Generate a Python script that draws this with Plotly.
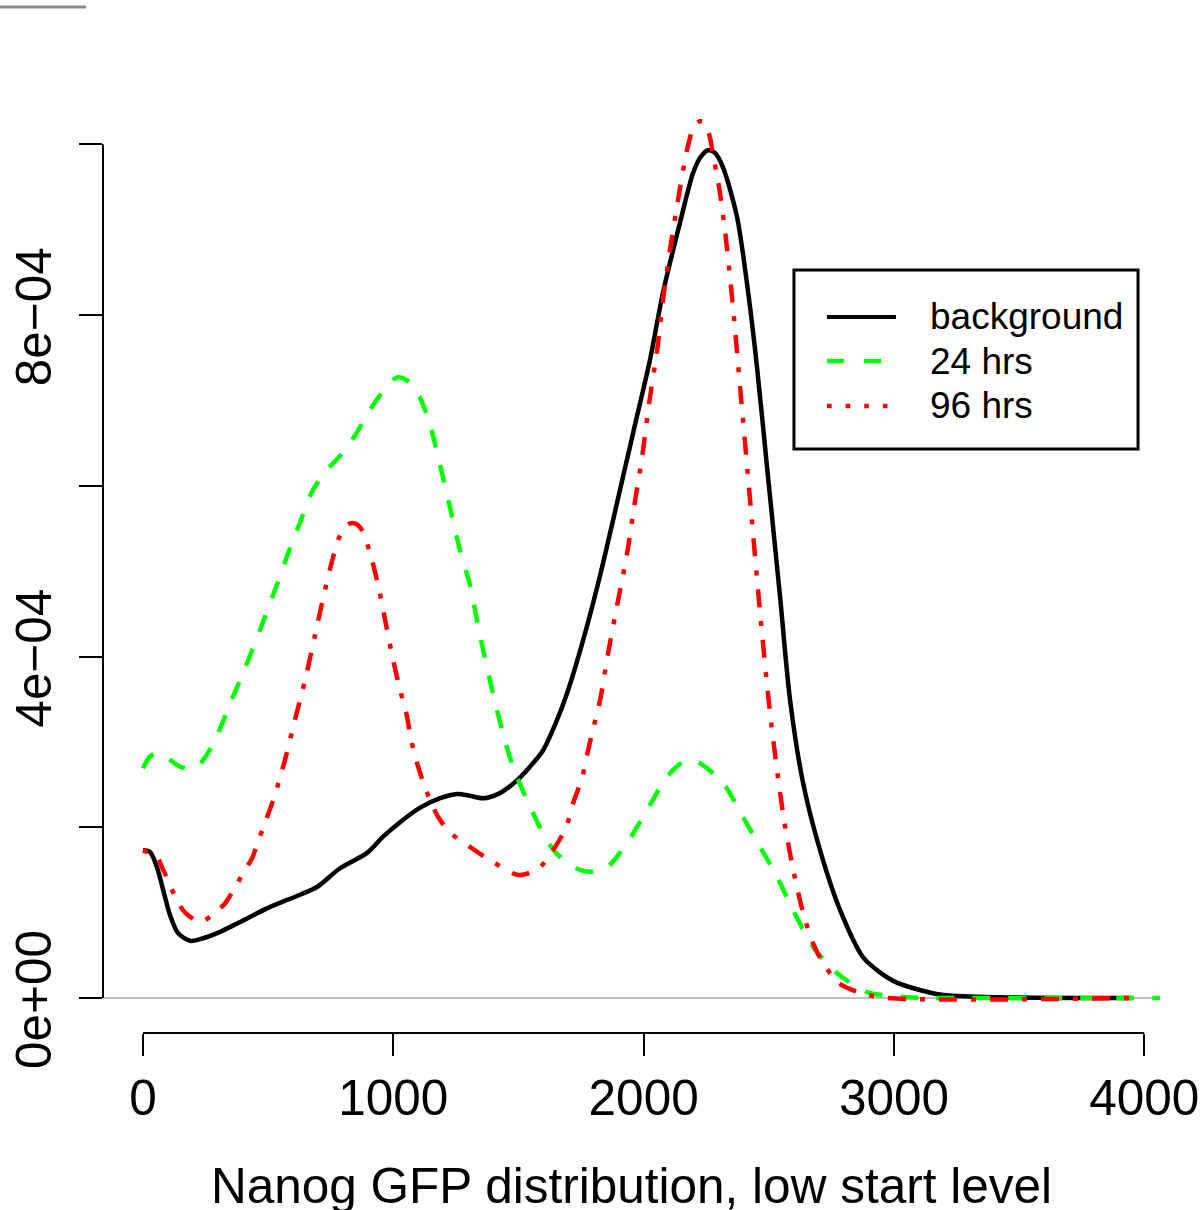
import plotly.graph_objects as go

# ---------------- data (density values in units of 1e-4) ----------------
x_background = [0, 28, 56, 80, 108, 140, 188, 228, 296, 388, 495, 627, 695, 787, 895,
                959, 1027, 1107, 1187, 1254, 1306, 1358, 1426, 1494, 1546, 1598, 1646, 1694,
                1758, 1826, 1878, 1958, 2025, 2077, 2145, 2197, 2225, 2257, 2285, 2317, 2373,
                2413, 2453, 2493, 2545, 2585, 2637, 2705, 2785, 2876, 2944, 3012, 3184, 3424, 3950]
y_background_e4 = [1.73, 1.71, 1.53, 1.27, 0.97, 0.76, 0.67, 0.69, 0.76, 0.89, 1.05, 1.21, 1.30,
                   1.52, 1.70, 1.89, 2.06, 2.23, 2.34, 2.39, 2.37, 2.34, 2.40, 2.55, 2.71, 2.90,
                   3.20, 3.57, 4.19, 4.95, 5.60, 6.62, 7.47, 8.26, 9.08, 9.66, 9.84, 9.93, 9.90,
                   9.73, 9.15, 8.37, 7.39, 6.22, 4.70, 3.49, 2.52, 1.73, 1.03, 0.48, 0.30, 0.18,
                   0.04, 0.01, 0.0]

x_24hrs = [0, 28, 68, 108, 148, 208, 248, 288, 348, 407, 467, 527, 587, 627, 675, 727, 787,
           847, 907, 967, 1015, 1067, 1107, 1147, 1187, 1226, 1266, 1306, 1346, 1398, 1438,
           1478, 1534, 1598, 1646, 1694, 1746, 1798, 1854, 1934, 2013, 2093, 2145, 2185, 2225,
           2317, 2397, 2465, 2533, 2597, 2677, 2773, 2893, 3052, 3264, 4100]
y_24hrs_e4 = [2.69, 2.83, 2.87, 2.79, 2.71, 2.69, 2.82, 3.02, 3.45, 3.86, 4.31, 4.78, 5.27,
              5.57, 5.93, 6.16, 6.35, 6.59, 6.89, 7.14, 7.27, 7.21, 7.03, 6.71, 6.24, 5.75,
              5.25, 4.84, 4.25, 3.57, 3.10, 2.71, 2.32, 1.93, 1.71, 1.59, 1.50, 1.48, 1.53,
              1.82, 2.20, 2.59, 2.74, 2.79, 2.75, 2.52, 2.12, 1.77, 1.42, 1.03, 0.60, 0.29,
              0.07, 0.01, 0.0, 0.0]

x_96hrs = [0, 56, 76, 108, 140, 168, 228, 288, 328, 368, 407, 436, 459, 487, 527, 567, 607,
           647, 687, 727, 759, 787, 819, 847, 875, 907, 939, 971, 999, 1027, 1055, 1071, 1099,
           1127, 1159, 1179, 1226, 1306, 1394, 1478, 1506, 1578, 1638, 1690, 1718, 1754, 1778,
           1798, 1826, 1858, 1898, 1934, 1966, 1994, 2022, 2054, 2077, 2105, 2137, 2173, 2201,
           2225, 2245, 2265, 2277, 2297, 2325, 2357, 2393, 2429, 2465, 2505, 2557, 2593, 2637,
           2677, 2713, 2777, 2865, 2972, 3955]
y_96hrs_e4 = [1.73, 1.65, 1.53, 1.32, 1.12, 1.00, 0.89, 1.00, 1.11, 1.30, 1.50, 1.64, 1.83,
              2.05, 2.38, 2.79, 3.26, 3.72, 4.25, 4.78, 5.16, 5.42, 5.55, 5.56, 5.48, 5.21,
              4.84, 4.37, 3.96, 3.61, 3.29, 3.02, 2.71, 2.46, 2.24, 2.12, 1.94, 1.77, 1.60,
              1.46, 1.44, 1.51, 1.73, 2.00, 2.28, 2.58, 2.90, 3.15, 3.49, 4.04, 4.66, 5.21,
              5.83, 6.34, 6.97, 7.59, 8.17, 8.76, 9.34, 9.93, 10.21, 10.27, 10.25, 10.08, 9.87,
              9.58, 8.99, 8.09, 6.90, 5.71, 4.52, 3.34, 2.16, 1.57, 1.00, 0.64, 0.43, 0.18,
              0.06, 0.0, 0.0]

series_names = ["background", "24 hrs", "96 hrs"]
x_ticks = [0, 1000, 2000, 3000, 4000]
x_tick_labels = ["0", "1000", "2000", "3000", "4000"]
y_ticks_e4 = [0, 2, 4, 6, 8, 10]
y_tick_labels = ["0e+00", "", "4e\u221204", "", "8e\u221204", ""]
x_title = "Nanog GFP distribution, low start level"

UNIT = 1e-4
FONT = "Liberation Sans, Arial, Helvetica, sans-serif"

fig = go.Figure()
styles = [
    dict(color="black", width=4.5, dash="solid"),
    dict(color="#00ff00", width=4.5, dash="18px,18px"),
    dict(color="#ff0000", width=4.5, dash="5px,14px,18px,14px"),
]
for name, xs, ys, st in zip(series_names,
                            [x_background, x_24hrs, x_96hrs],
                            [y_background_e4, y_24hrs_e4, y_96hrs_e4],
                            styles):
    fig.add_trace(go.Scatter(
        x=xs, y=[v * UNIT for v in ys], mode="lines", name=name,
        line=dict(color=st["color"], width=st["width"], dash=st["dash"],
                  shape="spline", smoothing=0.8),
        showlegend=False, hoverinfo="skip"))

shapes = []
# R-style axis lines spanning only the tick range
shapes.append(dict(type="line", xref="x", yref="paper", x0=x_ticks[0], x1=x_ticks[-1],
                   y0=0, y1=0, line=dict(color="black", width=2)))
shapes.append(dict(type="line", xref="paper", yref="y", x0=0, x1=0,
                   y0=y_ticks_e4[0] * UNIT, y1=y_ticks_e4[-1] * UNIT,
                   line=dict(color="black", width=2)))
# stray grey line at the top-left corner of the image
shapes.append(dict(type="line", xref="paper", yref="paper", x0=-0.0974, x1=-0.0161,
                   y0=1.0857, y1=1.0857, line=dict(color="#8c8c8c", width=3)))

# legend box
shapes.append(dict(type="rect", xref="paper", yref="paper", x0=0.6537, x1=0.9792,
                   y0=0.6180, y1=0.8074, line=dict(color="black", width=3),
                   fillcolor="white", layer="above"))
leg_rows = [0.7577, 0.7111, 0.6635]
leg_styles = [
    dict(color="black", width=4, dash="solid"),
    dict(color="#00ff00", width=4.5, dash="17px,20px"),
    dict(color="#ff0000", width=4.5, dash="4.6px,14px"),
]
annotations = []
for name, yr, st in zip(series_names, leg_rows, leg_styles):
    shapes.append(dict(type="line", xref="paper", yref="paper", x0=0.6850, x1=0.7502,
                       y0=yr, y1=yr, line=st, layer="above"))
    annotations.append(dict(xref="paper", yref="paper", x=0.7805, y=yr, text=name,
                            showarrow=False, xanchor="left", yanchor="middle",
                            font=dict(family=FONT, size=37, color="black")))

# x-axis title (placed as text under the axis, centred on the plot region)
annotations.append(dict(xref="paper", yref="paper", x=0.5, y=-0.1615, text=x_title,
                        showarrow=False, xanchor="center", yanchor="middle",
                        font=dict(family=FONT, size=49.5, color="black")))

fig.update_layout(
    width=1200, height=1210,
    margin=dict(l=103, r=40, t=88, b=177),
    paper_bgcolor="white", plot_bgcolor="white",
    font=dict(family=FONT, color="black"),
    shapes=shapes, annotations=annotations,
    xaxis=dict(range=[-160, 4063], showgrid=False, zeroline=False, showline=False,
               automargin=False,
               ticks="outside", ticklen=22, tickwidth=2, tickcolor="black",
               tickvals=x_ticks, ticktext=x_tick_labels,
               tickfont=dict(family=FONT, size=49.5, color="black")),
    yaxis=dict(range=[-0.41e-4, 10.66e-4], showgrid=False, showline=False,
               automargin=False,
               zeroline=True, zerolinecolor="#bebebe", zerolinewidth=1.5,
               ticks="outside", ticklen=23, tickwidth=2, tickcolor="black",
               tickvals=[v * UNIT for v in y_ticks_e4], ticktext=y_tick_labels,
               tickangle=-90, ticklabelstandoff=8, ticklabelshift=9,
               tickfont=dict(family=FONT, size=49.5, color="black")),
)

fig.write_html("out.html", config={"displayModeBar": False},
               post_script="document.body.style.margin='0px';document.body.style.padding='0px';")
